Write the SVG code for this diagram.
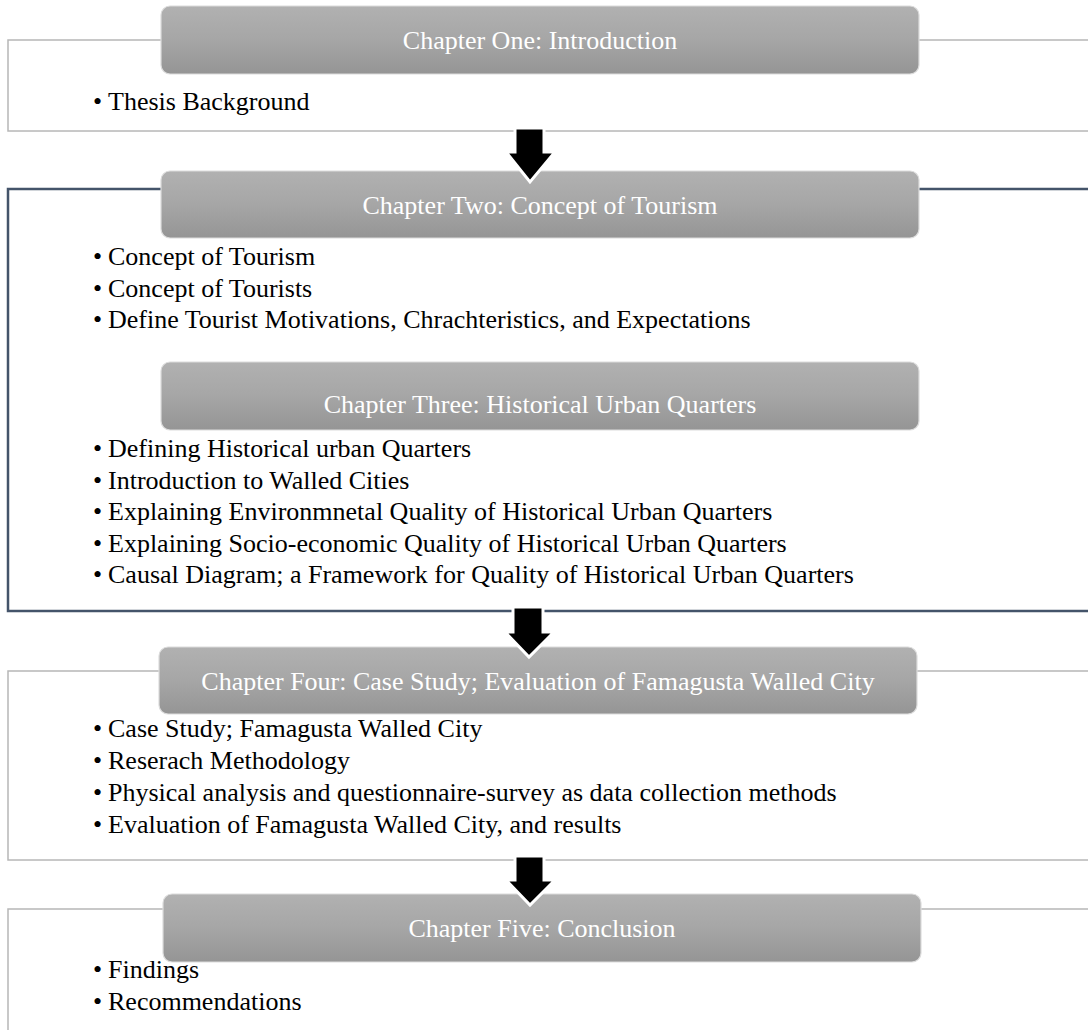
<svg xmlns="http://www.w3.org/2000/svg" width="1088" height="1030" viewBox="0 0 1088 1030">
  <style>
    .frame { fill: #ffffff; stroke: #b7b7b7; stroke-width: 1.5; }
    .frame-main { fill: #ffffff; stroke: #44546a; stroke-width: 2.5; }
    .head { fill: url(#headFill); stroke: #dcdcdc; stroke-width: 1.2; }
    .head-text { font-family: "Liberation Serif", "Times New Roman", serif; font-size: 26px; fill: #ffffff; text-anchor: middle; }
    .item { font-family: "Liberation Serif", "Times New Roman", serif; font-size: 26px; fill: #000000; }
    .arrow { fill: #000000; stroke: #ffffff; stroke-width: 3; stroke-linejoin: miter; }
  </style>
  <defs>
    <linearGradient id="headFill" x1="0" y1="0" x2="0" y2="1">
      <stop offset="0" stop-color="#b1b1b1"/>
      <stop offset="0.5" stop-color="#a6a6a6"/>
      <stop offset="1" stop-color="#959595"/>
    </linearGradient>
  </defs>
  <rect width="1088" height="1030" fill="#ffffff"/>

  <!-- Chapter One -->
  <g id="chapter-one">
    <rect class="frame" x="8" y="40" width="1100" height="91"/>
    <rect class="head" x="161" y="6" width="758" height="68" rx="9"/>
    <text class="head-text" x="540" y="49">Chapter One: Introduction</text>
    <text class="item" x="93" y="110">•</text>
    <text class="item" x="108" y="110">Thesis Background</text>
  </g>

  <!-- Chapters Two and Three -->
  <g id="chapter-two-three">
    <rect class="frame-main" x="8" y="189" width="1100" height="422"/>
    <rect class="head" x="161" y="171" width="758" height="67" rx="9"/>
    <text class="head-text" x="540" y="214">Chapter Two: Concept of Tourism</text>
    <g class="item">
      <text x="93" y="265">•</text><text x="108" y="265">Concept of Tourism</text>
      <text x="93" y="297">•</text><text x="108" y="297">Concept of Tourists</text>
      <text x="93" y="328">•</text><text x="108" y="328">Define Tourist Motivations, Chrachteristics, and Expectations</text>
    </g>
    <rect class="head" x="161" y="362" width="758" height="68" rx="9"/>
    <text class="head-text" x="540" y="413">Chapter Three: Historical Urban Quarters</text>
    <g class="item">
      <text x="93" y="457">•</text><text x="108" y="457">Defining Historical urban Quarters</text>
      <text x="93" y="488.5">•</text><text x="108" y="488.5">Introduction to Walled Cities</text>
      <text x="93" y="520">•</text><text x="108" y="520">Explaining Environmnetal Quality of Historical Urban Quarters</text>
      <text x="93" y="551.5">•</text><text x="108" y="551.5">Explaining Socio-economic Quality of Historical Urban Quarters</text>
      <text x="93" y="583">•</text><text x="108" y="583">Causal Diagram; a Framework for Quality of Historical Urban Quarters</text>
    </g>
  </g>

  <!-- Chapter Four -->
  <g id="chapter-four">
    <rect class="frame" x="8" y="671" width="1100" height="189"/>
    <rect class="head" x="159" y="647" width="758" height="67" rx="9"/>
    <text class="head-text" x="538" y="690">Chapter Four: Case Study; Evaluation of Famagusta Walled City</text>
    <g class="item">
      <text x="93" y="737">•</text><text x="108" y="737">Case Study; Famagusta Walled City</text>
      <text x="93" y="769">•</text><text x="108" y="769">Reserach Methodology</text>
      <text x="93" y="801">•</text><text x="108" y="801">Physical analysis and questionnaire-survey as data collection methods</text>
      <text x="93" y="833">•</text><text x="108" y="833">Evaluation of Famagusta Walled City, and results</text>
    </g>
  </g>

  <!-- Chapter Five -->
  <g id="chapter-five">
    <rect class="frame" x="8" y="909" width="1100" height="140"/>
    <rect class="head" x="163" y="894" width="758" height="68" rx="9"/>
    <text class="head-text" x="542" y="937">Chapter Five: Conclusion</text>
    <g class="item">
      <text x="93" y="978">•</text><text x="108" y="978">Findings</text>
      <text x="93" y="1010">•</text><text x="108" y="1010">Recommendations</text>
    </g>
  </g>

  <!-- Down arrows between chapters -->
  <g id="connectors">
    <path class="arrow" d="M515 128 H544 V152 H555 L530 182 L506 152 H515 Z"/>
    <path class="arrow" d="M513 607 H543 V632 H554 L529 657 L505 632 H513 Z"/>
    <path class="arrow" d="M515 856 H544 V880 H555 L530 905 L506 880 H515 Z"/>
  </g>
</svg>
